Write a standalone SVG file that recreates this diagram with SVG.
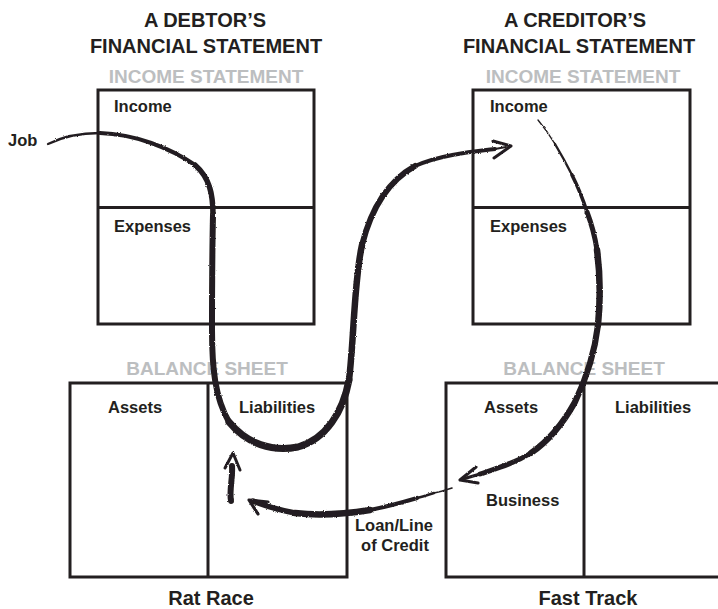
<svg xmlns="http://www.w3.org/2000/svg" width="718" height="609" viewBox="0 0 718 609">
<style>
  .box{fill:none;stroke:#231f20;stroke-width:3}
  .ln{stroke:#231f20;stroke-width:3}
  .h{font-family:"Liberation Sans",Arial,sans-serif;font-weight:bold;font-size:20px;fill:#231f20;text-anchor:middle}
  .g{font-family:"Liberation Sans",Arial,sans-serif;font-weight:bold;font-size:19px;fill:#bcbec0;text-anchor:middle}
  .t{font-family:"Liberation Sans",Arial,sans-serif;font-weight:bold;font-size:16.5px;fill:#231f20}
  .tm{font-family:"Liberation Sans",Arial,sans-serif;font-weight:bold;font-size:16.5px;fill:#231f20;text-anchor:middle}
  .b{fill:none;stroke:#231f20;stroke-linecap:round;stroke-linejoin:round}
</style>
<defs>
  <filter id="rough" x="-5%" y="-5%" width="110%" height="110%">
    <feTurbulence type="fractalNoise" baseFrequency="0.9" numOctaves="2" seed="4" result="n"/>
    <feDisplacementMap in="SourceGraphic" in2="n" scale="2.2" xChannelSelector="R" yChannelSelector="G"/>
  </filter>
</defs>
<rect width="718" height="609" fill="#ffffff"/>

<g id="debtor-title">
  <text class="h" x="205" y="27">A DEBTOR’S</text>
  <text class="h" x="206" y="53">FINANCIAL STATEMENT</text>
</g>
<g id="creditor-title">
  <text class="h" x="575" y="27">A CREDITOR’S</text>
  <text class="h" x="579" y="53">FINANCIAL STATEMENT</text>
</g>

<g id="debtor-income-statement">
  <text class="g" x="206" y="83">INCOME STATEMENT</text>
  <rect class="box" x="98" y="90" width="216" height="234"/>
  <line class="ln" x1="98" y1="207.5" x2="314" y2="207.5"/>
  <text class="t" x="114" y="112">Income</text>
  <text class="t" x="114" y="232">Expenses</text>
</g>

<g id="creditor-income-statement">
  <text class="g" x="583" y="83">INCOME STATEMENT</text>
  <rect class="box" x="473" y="90" width="217" height="234"/>
  <line class="ln" x1="473" y1="207.5" x2="690" y2="207.5"/>
  <text class="t" x="490" y="112">Income</text>
  <text class="t" x="490" y="232">Expenses</text>
</g>

<g id="debtor-balance-sheet">
  <text class="g" x="207" y="375">BALANCE SHEET</text>
  <rect class="box" x="70" y="383" width="277" height="194"/>
  <line class="ln" x1="208" y1="383" x2="208" y2="577"/>
  <text class="t" x="108" y="413">Assets</text>
  <text class="t" x="239" y="413">Liabilities</text>
</g>

<g id="creditor-balance-sheet">
  <text class="g" x="584" y="375">BALANCE SHEET</text>
  <rect class="box" x="446" y="383" width="280" height="194"/>
  <line class="ln" x1="584" y1="383" x2="584" y2="577"/>
  <text class="t" x="484" y="413">Assets</text>
  <text class="t" x="615" y="413">Liabilities</text>
  <text class="t" x="486" y="506">Business</text>
</g>

<g id="labels">
  <text class="t" x="8" y="146">Job</text>
  <text class="tm" x="394" y="531">Loan/Line</text>
  <text class="tm" x="395" y="551">of Credit</text>
  <text class="h" x="211" y="605">Rat Race</text>
  <text class="h" x="588" y="605">Fast Track</text>
</g>

<g id="connectors" filter="url(#rough)">
  <!-- Job -> expenses -> liabilities -> creditor income -->
  <path class="b" stroke-width="2.3" d="M48,144 C62,137 80,133 100,133"/>
  <path class="b" stroke-width="4" d="M100,133 C135,134 170,148 195,165"/>
  <path class="b" stroke-width="5.5" d="M195,165 C210,178 213,195 213,215"/>
  <path class="b" stroke-width="6" d="M213,215 C212,260 212,300 212,330 C212,368 215,398 229,422"/>
  <path class="b" stroke-width="7" d="M229,422 C247,444 272,452 298,447 C326,439 343,412 349,380"/>
  <path class="b" stroke-width="6.5" d="M349,380 C354,340 354,280 362,245"/>
  <path class="b" stroke-width="6" d="M362,245 C372,205 390,180 415,166"/>
  <path class="b" stroke-width="4" d="M415,166 C440,155 470,152 495,149"/>
  <path class="b" stroke-width="2" d="M495,149 L506,147"/>
  <path class="b" stroke-width="3" d="M493,141 L511,146 L494,158"/>

  <!-- creditor income -> business -->
  <path class="b" stroke-width="1.4" d="M538,120 C543,126 549,134 555,144"/>
  <path class="b" stroke-width="2.4" d="M555,144 C561,154 567,165 572,175"/>
  <path class="b" stroke-width="3.6" d="M572,175 C578,187 583,199 587,212"/>
  <path class="b" stroke-width="5" d="M587,212 C592,225 595,237 597,250"/>
  <path class="b" stroke-width="6.5" d="M597,250 C601,280 600,305 598,325"/>
  <path class="b" stroke-width="6.2" d="M598,325 C595,350 588,375 575,402 C565,420 550,440 531,453"/>
  <path class="b" stroke-width="5" d="M531,453 C515,463 498,468 480,474"/>
  <path class="b" stroke-width="3.2" d="M480,474 L463,479"/>
  <path class="b" stroke-width="3.2" d="M476,467 L460,480 L478,483"/>

  <!-- loan/line of credit -> liabilities -->
  <path class="b" stroke-width="1.6" d="M452,488 C446,490 440,492 434,493"/>
  <path class="b" stroke-width="2.6" d="M434,493 C428,495 422,497 417,498"/>
  <path class="b" stroke-width="4.2" d="M417,498 C400,503 390,506 370,510"/>
  <path class="b" stroke-width="6.5" d="M370,510 C345,514 320,516 295,513"/>
  <path class="b" stroke-width="5.5" d="M295,513 C280,510 265,506 253,501"/>
  <path class="b" stroke-width="3.2" d="M268,502 L249,500 L258,514"/>

  <!-- small up arrow -->
  <path class="b" stroke-width="6" d="M231,501 C229,490 233,478 232,466"/>
  <path class="b" stroke-width="3" d="M225,468 L233,453 L240,470"/>
</g>
</svg>
